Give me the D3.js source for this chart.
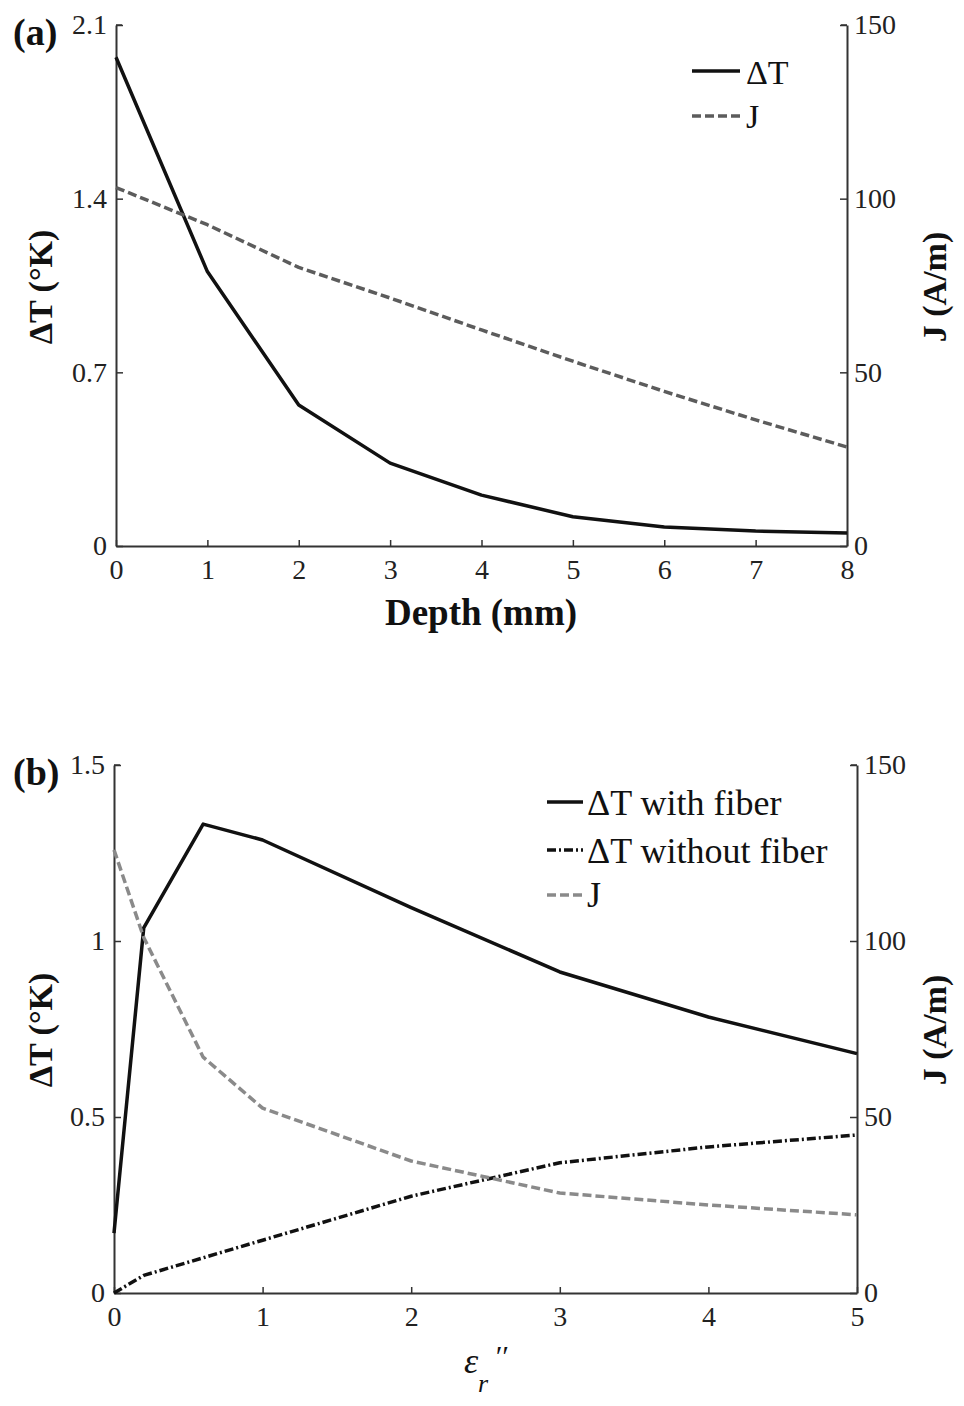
<!DOCTYPE html>
<html><head><meta charset="utf-8">
<script src="https://cdn.jsdelivr.net/npm/d3@7/dist/d3.min.js"></script>
<style>body{margin:0;background:#fff}svg{display:block}</style>
</head><body>
<svg id="c" width="964" height="1406"></svg>
<script>
// Panel (a)
const depth = [0,1,2,3,4,5,6,7,8];
const dtDepth = [1.97,1.106,0.568,0.334,0.205,0.118,0.077,0.06,0.052];
const jDepth = [103.2,92.5,80.2,71.4,62.2,53.2,44.5,36.3,28.5];
const aXTicks = [0,1,2,3,4,5,6,7,8];
const aLeftTicks = [0,0.7,1.4,2.1];
const aRightTicks = [0,50,100,150];

// Panel (b)
const epsR = [0,0.2,0.6,1,2,3,4,5];
const dtWithFiber = [0.17,1.037,1.332,1.287,1.095,0.912,0.784,0.68];
const dtWithoutFiber = [0,0.05,0.10,0.15,0.275,0.37,0.415,0.449];
const jEps = [125.9,101,67,52.5,37.5,28.4,25,22.2];
const bXTicks = [0,1,2,3,4,5];
const bLeftTicks = [0,0.5,1,1.5];
const bRightTicks = [0,50,100,150];

const svg = d3.select("#c");
const serif = "'Liberation Serif','Times New Roman',serif";

function panel(cfg){
  const g = svg.append("g");
  const x = d3.scaleLinear().domain(cfg.xd).range([cfg.l, cfg.r]);
  const yL = d3.scaleLinear().domain(cfg.yLd).range([cfg.b, cfg.t]);
  const yR = d3.scaleLinear().domain(cfg.yRd).range([cfg.b, cfg.t]);
  const fmt = d3.format("~g");
  const axB = g.append("g").attr("transform",`translate(0,${cfg.b})`)
    .call(d3.axisBottom(x).tickValues(cfg.xt).tickSizeInner(-6).tickSizeOuter(0).tickPadding(13).tickFormat(fmt));
  const axL = g.append("g").attr("transform",`translate(${cfg.l},0)`)
    .call(d3.axisLeft(yL).tickValues(cfg.yLt).tickSizeInner(-7).tickSizeOuter(0).tickPadding(9).tickFormat(fmt));
  const axR = g.append("g").attr("transform",`translate(${cfg.r},0)`)
    .call(d3.axisRight(yR).tickValues(cfg.yRt).tickSizeInner(-7).tickSizeOuter(0).tickPadding(7).tickFormat(fmt));
  [axB,axL,axR].forEach(a=>{
    a.select(".domain").attr("stroke","#333").attr("stroke-width",2);
    a.selectAll(".tick line").attr("stroke","#333").attr("stroke-width",1.5);
    a.selectAll("text").attr("font-family",serif).attr("font-size",28).attr("fill","#222");
  });
  axB.selectAll("text").attr("dy","0.71em");
  g.append("line").attr("x1",cfg.l).attr("x2",cfg.l+6).attr("y1",cfg.t).attr("y2",cfg.t).attr("stroke","#333").attr("stroke-width",1.5);
  g.append("line").attr("x1",cfg.r).attr("x2",cfg.r-6).attr("y1",cfg.t).attr("y2",cfg.t).attr("stroke","#333").attr("stroke-width",1.5);

  cfg.series.forEach(s=>{
    const ys = s.axis === "L" ? yL : yR;
    const line = d3.line().x((d,i)=>x(cfg.xs[i])).y(d=>ys(d));
    g.append("path").datum(s.values).attr("d",line).attr("fill","none")
      .attr("stroke",s.color).attr("stroke-width",s.w).attr("stroke-dasharray",s.dash||null)
      .attr("stroke-linejoin","round");
  });
  cfg.series.forEach((s,i)=>{
    const ly = cfg.leg.y[i];
    g.append("line").attr("x1",cfg.leg.x1).attr("x2",cfg.leg.x2).attr("y1",ly.line).attr("y2",ly.line)
      .attr("stroke",s.color).attr("stroke-width",s.w).attr("stroke-dasharray",s.dash||null);
    g.append("text").attr("x",cfg.leg.tx).attr("y",ly.base).text(s.name)
      .attr("font-family",serif).attr("font-size",cfg.leg.fs).attr("fill","#111");
  });
  g.append("text").attr("x",13).attr("y",cfg.t+20).text(cfg.label)
    .attr("font-family",serif).attr("font-weight","bold").attr("font-size",38).attr("fill","#111");
  g.append("text").attr("transform",`translate(52,${cfg.ylY}) rotate(-90)`).attr("text-anchor","middle")
    .text("ΔT (°K)").attr("font-family",serif).attr("font-weight","bold").attr("font-size",34).attr("fill","#111");
  g.append("text").attr("transform",`translate(946,${cfg.ylY}) rotate(-90)`).attr("text-anchor","middle")
    .text("J (A/m)").attr("font-family",serif).attr("font-weight","bold").attr("font-size",34).attr("fill","#111");
  return g;
}

panel({
  xd:[0,8], yLd:[0,2.1], yRd:[0,150], l:116, r:847, t:25, b:546,
  xt:aXTicks, yLt:aLeftTicks, yRt:aRightTicks, xs:depth, label:"(a)", ylY:287,
  series:[
    {name:"ΔT", values:dtDepth, axis:"L", color:"#111", w:3.5},
    {name:"J", values:jDepth, axis:"R", color:"#5c5c5c", w:3.5, dash:"9,4"}
  ],
  leg:{x1:692, x2:740, tx:746, fs:34, y:[{line:71,base:84},{line:116,base:128}]}
});
svg.append("text").attr("x",481).attr("y",625).attr("text-anchor","middle").text("Depth (mm)")
  .attr("font-family",serif).attr("font-weight","bold").attr("font-size",37).attr("fill","#111");

panel({
  xd:[0,5], yLd:[0,1.5], yRd:[0,150], l:114, r:857, t:765, b:1293,
  xt:bXTicks, yLt:bLeftTicks, yRt:bRightTicks, xs:epsR, label:"(b)", ylY:1030,
  series:[
    {name:"ΔT with fiber", values:dtWithFiber, axis:"L", color:"#111", w:3.5},
    {name:"ΔT without fiber", values:dtWithoutFiber, axis:"L", color:"#111", w:3.5, dash:"9,3,2,3"},
    {name:"J", values:jEps, axis:"R", color:"#8a8a8a", w:3.5, dash:"9,4"}
  ],
  leg:{x1:547, x2:583, tx:587, fs:36, y:[{line:802,base:815},{line:850,base:863},{line:895,base:907}]}
});
const xl = svg.append("text").attr("font-family",serif).attr("font-style","italic").attr("fill","#111");
xl.append("tspan").attr("x",464).attr("y",1373).attr("font-size",36).text("ε");
xl.append("tspan").attr("x",478).attr("y",1392).attr("font-size",26).text("r");
xl.append("tspan").attr("x",494).attr("y",1366).attr("font-size",30).text("′′");
</script>
</body></html>
